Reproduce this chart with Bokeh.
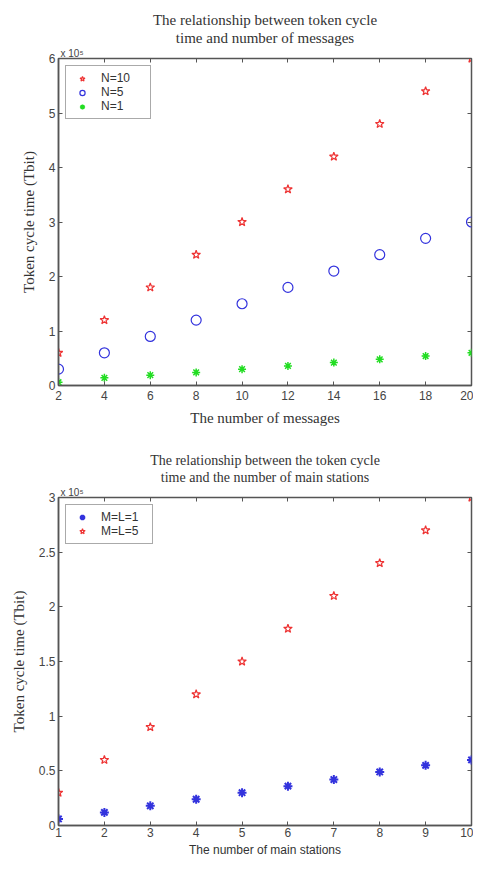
from bokeh.plotting import figure
from bokeh.models import (Title, LinearAxis, Legend, LegendItem, Range1d,
                          FixedTicker, CustomJSTickFormatter)
from bokeh.layouts import column
from bokeh.embed import file_html
from bokeh.resources import INLINE

# ---- data: top chart ----
messages = [2, 4, 6, 8, 10, 12, 14, 16, 18, 20]
n10 = [60000, 120000, 180000, 240000, 300000, 360000, 420000, 480000, 540000, 600000]
n5 = [30000, 60000, 90000, 120000, 150000, 180000, 210000, 240000, 270000, 300000]
n1 = [6000, 14000, 19000, 24000, 30000, 36000, 42000, 48000, 54000, 60000]
top_yticks = [0, 100000, 200000, 300000, 400000, 500000, 600000]

# ---- data: bottom chart ----
stations = [1, 2, 3, 4, 5, 6, 7, 8, 9, 10]
ml1 = [6000, 12000, 18000, 24000, 30000, 36000, 42000, 49000, 55000, 60000]
ml5 = [30000, 60000, 90000, 120000, 150000, 180000, 210000, 240000, 270000, 300000]
bot_yticks = [0, 50000, 100000, 150000, 200000, 250000, 300000]

RED = "#ee3333"
BLUE = "#3333dd"
GREEN = "#22dd22"
AX = "#555555"
TICK_TXT = "#444444"
SERIF = "Liberation Serif"
SANS = "Liberation Sans"

fmt = CustomJSTickFormatter(code="return (Math.round(tick/1e4)/10).toString();")
empty = CustomJSTickFormatter(code="return '';")


def style(p, xticks, yticks, xlabel, ylabel, xfont, xsize, lstand, astand):
    p.xgrid.visible = False
    p.ygrid.visible = False
    p.outline_line_color = AX
    p.outline_line_width = 1.5
    p.xaxis.ticker = FixedTicker(ticks=xticks)
    p.yaxis.ticker = FixedTicker(ticks=yticks)
    p.yaxis.formatter = fmt
    for ax in (p.xaxis[0], p.yaxis[0]):
        ax.axis_line_color = AX
        ax.axis_line_width = 1.5
        ax.major_tick_in = 4
        ax.major_tick_out = 0
        ax.minor_tick_line_color = None
        ax.major_tick_line_color = AX
        ax.major_label_text_font = SANS
        ax.major_label_text_font_size = "12px"
        ax.major_label_text_color = TICK_TXT
        ax.axis_label_text_font_style = "normal"
        ax.axis_label_text_color = "#333333"
    p.xaxis.major_label_standoff = lstand
    p.yaxis.major_label_standoff = 3
    p.xaxis.axis_label = xlabel
    p.xaxis.axis_label_text_font = xfont
    p.xaxis.axis_label_text_font_size = xsize
    p.xaxis.axis_label_standoff = astand
    p.yaxis.axis_label = ylabel
    p.yaxis.axis_label_text_font = SERIF
    p.yaxis.axis_label_text_font_size = "15px"
    p.yaxis.axis_label_standoff = 9
    # ticks on top/right (box style)
    top = LinearAxis(ticker=FixedTicker(ticks=xticks), formatter=empty,
                     axis_line_color=None, major_tick_in=4, major_tick_out=0,
                     minor_tick_line_color=None, major_tick_line_color=AX,
                     major_label_standoff=0, major_label_text_font_size="0px")
    right = LinearAxis(ticker=FixedTicker(ticks=yticks), formatter=empty,
                       axis_line_color=None, major_tick_in=4, major_tick_out=0,
                       minor_tick_line_color=None, major_tick_line_color=AX,
                       major_label_standoff=0, major_label_text_font_size="0px")
    p.add_layout(top, "above")
    p.add_layout(right, "right")


def add_titles(p, line1, line2, size):
    p.add_layout(Title(text="x 10\u2075", align="left", text_font=SANS,
                       text_font_size="10px", text_font_style="normal",
                       text_color=TICK_TXT, standoff=0, offset=2), "above")
    p.add_layout(Title(text=line2, align="center", text_font=SERIF,
                       text_font_size=size, text_font_style="normal",
                       text_color="#333333", standoff=0), "above")
    p.add_layout(Title(text=line1, align="center", text_font=SERIF,
                       text_font_size=size, text_font_style="normal",
                       text_color="#333333", standoff=0), "above")


def make_legend(items, lw, height):
    return Legend(items=items, location="top_left", label_text_font=SANS,
                  label_text_font_size="12px", label_text_color="#333333",
                  border_line_color=AX, border_line_width=1.5,
                  glyph_width=22, glyph_height=height, label_height=height,
                  label_width=lw, spacing=0, padding=5, margin=7, label_standoff=8)


# ---------------- top figure ----------------
p1 = figure(width=473, height=431, output_backend="svg", toolbar_location=None,
            x_range=Range1d(2, 20), y_range=Range1d(0, 600000),
            min_border_left=52, min_border_right=2, min_border_top=58,
            min_border_bottom=46, background_fill_color="white")
style(p1, messages, top_yticks, "The number of messages", "Token cycle time (Tbit)",
      SERIF, "15px", 5, 7)
add_titles(p1, "The relationship between token cycle",
           "time and number of messages", "15px")

r10 = p1.scatter(messages, n10, marker="star", size=9, fill_color=None,
                 line_color=RED, line_width=1.2)
r5 = p1.scatter(messages, n5, marker="circle", size=10, fill_color=None,
                line_color=BLUE, line_width=1.2)
r1 = p1.scatter(messages, n1, marker="asterisk", size=8, line_color=GREEN,
                line_width=1.5)
p1.add_layout(make_legend([LegendItem(label="N=10", renderers=[r10]),
                           LegendItem(label="N=5", renderers=[r5]),
                           LegendItem(label="N=1", renderers=[r1])], 44, 13))

# ---------------- bottom figure ----------------
p2 = figure(width=473, height=428, output_backend="svg", toolbar_location=None,
            x_range=Range1d(1, 10), y_range=Range1d(0, 300000),
            min_border_left=58, min_border_right=0, min_border_top=66,
            min_border_bottom=30, background_fill_color="white")
style(p2, stations, bot_yticks, "The number of main stations", "Token cycle time (Tbit)",
      SANS, "12px", 2, 3)
add_titles(p2, "The relationship between the token cycle",
           "time and the number of main stations", "14px")

s1 = p2.scatter(stations, ml1, marker="asterisk", size=9, line_color=BLUE,
                line_width=2)
s5 = p2.scatter(stations, ml5, marker="star", size=9, fill_color=None,
                line_color=RED, line_width=1.2)
p2.add_layout(make_legend([LegendItem(label="M=L=1", renderers=[s1]),
                           LegendItem(label="M=L=5", renderers=[s5])], 46, 14))

layout = column(p1, p2, spacing=0)
open("out.html", "w").write(file_html(layout, INLINE))
